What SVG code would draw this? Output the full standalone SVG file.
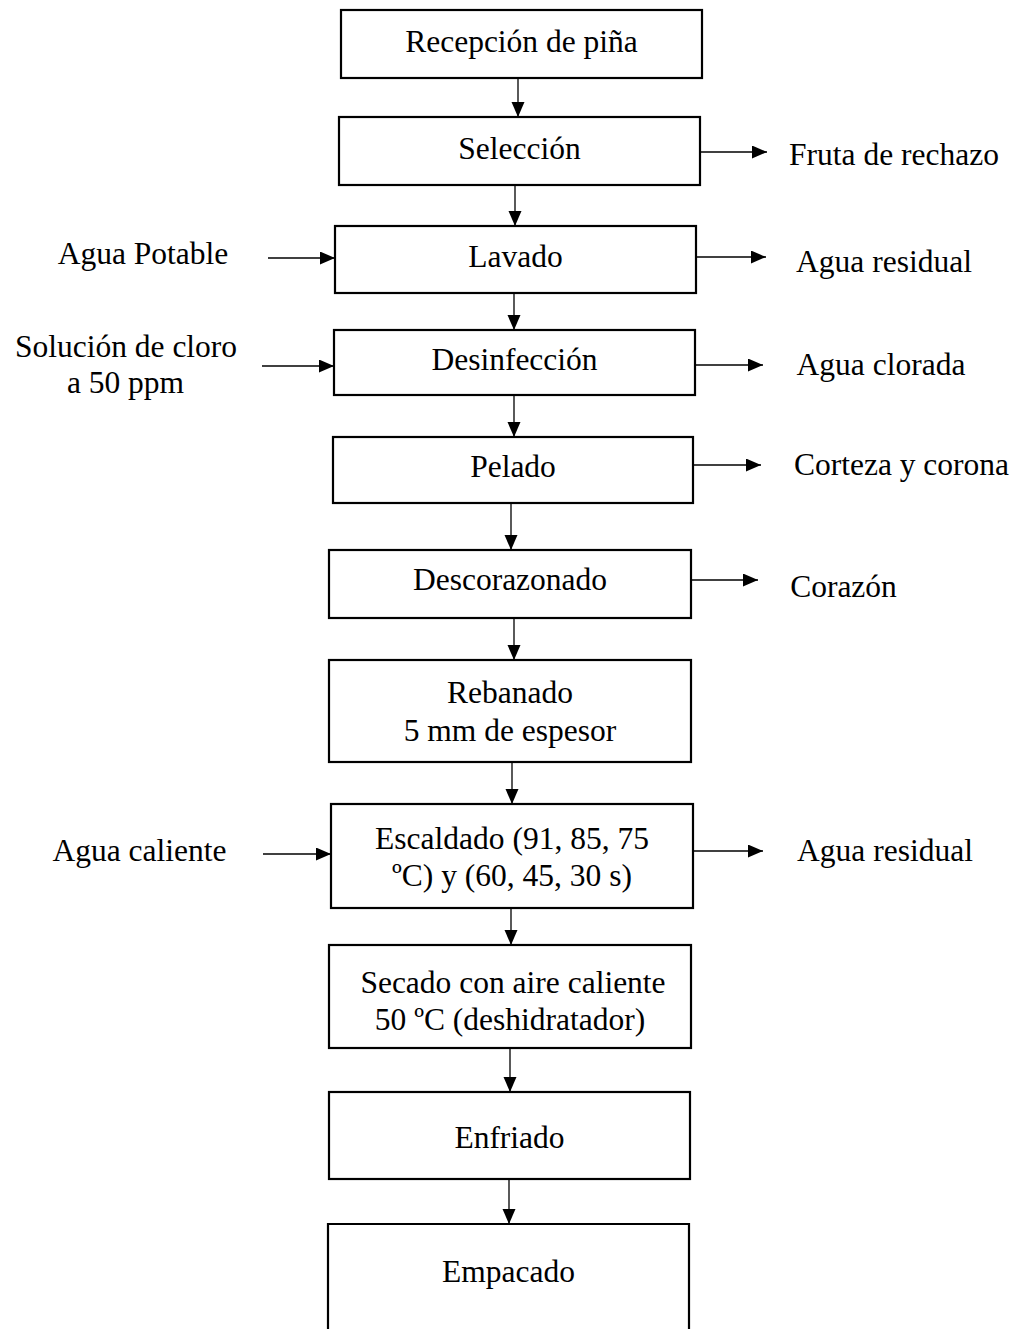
<svg xmlns="http://www.w3.org/2000/svg" width="1019" height="1329" viewBox="0 0 1019 1329">
<style>
.box{fill:#fff;stroke:#000;stroke-width:2.2}
text{font-family:"Liberation Serif","Times New Roman",serif;font-size:31.5px;fill:#000;text-anchor:middle}
.c line{stroke:#000;stroke-width:1.3;marker-end:url(#ah)}
</style>
<defs>
<marker id="ah" markerUnits="userSpaceOnUse" markerWidth="16" markerHeight="14" refX="15" refY="6.5" orient="auto">
<path d="M0,0 L15,6.5 L0,13 Z" fill="#000"/>
</marker>
</defs>
<rect width="1019" height="1329" fill="#fff"/>
<g class="c" id="connectors">
<line x1="518" y1="79" x2="518" y2="117"/>
<line x1="515" y1="186" x2="515" y2="226"/>
<line x1="514" y1="294" x2="514" y2="330"/>
<line x1="514" y1="396" x2="514" y2="437"/>
<line x1="511" y1="504" x2="511" y2="550"/>
<line x1="514" y1="619" x2="514" y2="660"/>
<line x1="512" y1="763" x2="512" y2="804"/>
<line x1="511" y1="909" x2="511" y2="945"/>
<line x1="510" y1="1049" x2="510" y2="1092"/>
<line x1="509" y1="1180" x2="509" y2="1224"/>
<line x1="700" y1="152" x2="767" y2="152"/>
<line x1="268" y1="258" x2="335" y2="258"/>
<line x1="696" y1="257" x2="766" y2="257"/>
<line x1="262" y1="366" x2="334" y2="366"/>
<line x1="695" y1="365" x2="763" y2="365"/>
<line x1="693" y1="465" x2="761" y2="465"/>
<line x1="691" y1="580" x2="758" y2="580"/>
<line x1="263" y1="854" x2="331" y2="854"/>
<line x1="693" y1="851" x2="763" y2="851"/>
</g>
<g id="n1"><rect class="box" x="341" y="10" width="361" height="68"/><text x="521.5" y="52">Recepción de piña</text></g>
<g id="n2"><rect class="box" x="339" y="117" width="361" height="68"/><text x="519.5" y="159">Selección</text></g>
<g id="n3"><rect class="box" x="335" y="226" width="361" height="67"/><text x="515.5" y="267">Lavado</text></g>
<g id="n4"><rect class="box" x="334" y="330" width="361" height="65"/><text x="514.5" y="370">Desinfección</text></g>
<g id="n5"><rect class="box" x="333" y="437" width="360" height="66"/><text x="513" y="477">Pelado</text></g>
<g id="n6"><rect class="box" x="329" y="550" width="362" height="68"/><text x="510" y="590">Descorazonado</text></g>
<g id="n7"><rect class="box" x="329" y="660" width="362" height="102"/><text x="510" y="703">Rebanado</text><text x="510" y="741">5 mm de espesor</text></g>
<g id="n8"><rect class="box" x="331" y="804" width="362" height="104"/><text x="512" y="849">Escaldado (91, 85, 75</text><text x="512" y="886">ºC) y (60, 45, 30 s)</text></g>
<g id="n9"><rect class="box" x="329" y="945" width="362" height="103"/><text x="513" y="993">Secado con aire caliente</text><text x="510" y="1030">50 ºC (deshidratador)</text></g>
<g id="n10"><rect class="box" x="329" y="1092" width="361" height="87"/><text x="509.5" y="1148">Enfriado</text></g>
<g id="n11"><path class="box" d="M328,1340 L328,1224 L689,1224 L689,1340"/><text x="508.5" y="1282">Empacado</text></g>
<g id="l1"><text x="894" y="165">Fruta de rechazo</text></g>
<g id="l2"><text x="143" y="264">Agua Potable</text></g>
<g id="l3"><text x="884" y="272">Agua residual</text></g>
<g id="l4"><text x="126" y="357">Solución de cloro</text><text x="125.5" y="393">a 50 ppm</text></g>
<g id="l5"><text x="881" y="375">Agua clorada</text></g>
<g id="l6"><text x="901.5" y="475">Corteza y corona</text></g>
<g id="l7"><text x="843.5" y="597">Corazón</text></g>
<g id="l8"><text x="139.5" y="861">Agua caliente</text></g>
<g id="l9"><text x="885" y="861">Agua residual</text></g>
</svg>
